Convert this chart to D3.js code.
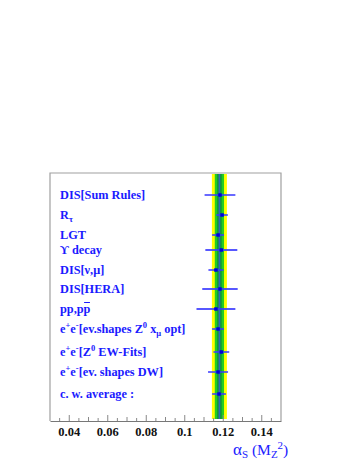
<!DOCTYPE html>
<html><head><meta charset="utf-8">
<script src="https://cdn.jsdelivr.net/npm/d3@7"></script>
<style>body{margin:0;background:#fff;} svg{display:block;}</style>
</head><body>
<svg id="c" width="358" height="463"></svg>
<script>
// ---- data ----
const labels = [
  "DIS[Sum Rules]", "R_tau", "LGT", "Upsilon decay", "DIS[nu,mu]", "DIS[HERA]",
  "pp,ppbar", "ee[ev.shapes Z0 xmu opt]", "ee[Z0 EW-Fits]", "ee[ev. shapes DW]", "c. w. average :"
];
const alphaValues = [0.1183, 0.1194, 0.1173, 0.1190, 0.1162, 0.1183, 0.1162, 0.1173, 0.1190, 0.1173, 0.1178];
const alphaErrors = [0.0080, 0.0030, 0.0031, 0.0083, 0.0039, 0.0092, 0.0101, 0.0031, 0.0041, 0.0052, 0.0036];
const rowY = [11.3, 10.3, 9.3, 8.55, 7.55, 6.6, 5.6, 4.6, 3.45, 2.45, 1.35];
const average = 0.1180;
const bandOuter = 0.0039;
const bandInner = 0.0024;
const bandCore = 0.0012;
const xTicks = [0.04, 0.06, 0.08, 0.1, 0.12, 0.14];

// ---- layout ----
const L = 50, R = 281, T = 173, B = 421;
const FONT = "Liberation Serif, Times New Roman, serif";
const svg = d3.select("#c");
const x = d3.scaleLinear().domain([0.03, 0.15]).range([L, R]);
const y = d3.scaleLinear().domain([0, 12.4]).range([B, T]);

// bands
const bandG = svg.append("g");
function band(hw, color) {
  bandG.append("rect").attr("x", x(average - hw)).attr("width", x(average + hw) - x(average - hw))
    .attr("y", T + 1).attr("height", B - T - 3).attr("fill", color);
}
band(bandOuter, "#ffff00");
band(bandInner, "#22cc22");
band(bandCore, "#119933");
bandG.append("line").attr("x1", x(average)).attr("x2", x(average)).attr("y1", T + 1).attr("y2", B - 2)
  .attr("stroke", "#3366bb").attr("stroke-width", 1.6);

// frame
svg.append("path").attr("d", `M${L},${B}V${T}H${R}V${B}`).attr("fill", "none")
  .attr("stroke", "#a0a0a0").attr("stroke-width", 1.2);

// x axis
const ax = d3.axisBottom(x).tickValues([]).tickSize(0);
const axG = svg.append("g").attr("transform", `translate(0,${B})`).call(ax);
axG.select(".domain").attr("stroke", "#777").attr("stroke-width", 1.2);
const minor = x.ticks(24).filter(v => v > 0.031 && v < 0.149);
svg.append("g").selectAll("line").data(minor).join("line")
  .attr("x1", d => x(d)).attr("x2", d => x(d))
  .attr("y1", B)
  .attr("y2", d => {
    const k = Math.round(d * 1000);
    return B - (k % 20 === 0 ? 6 : (k % 10 === 0 ? 4 : 3));
  })
  .attr("stroke", "#888").attr("stroke-width", 1);
svg.append("g").selectAll("text").data(xTicks).join("text")
  .attr("x", d => x(d)).attr("y", B + 15).attr("text-anchor", "middle")
  .attr("font-family", FONT).attr("font-weight", "bold")
  .attr("font-size", 12.5).attr("fill", "#111")
  .text(d => String(+d.toFixed(2)));

// axis title
const tt = svg.append("text").attr("x", 233).attr("y", 455)
  .attr("font-family", FONT).attr("fill", "#2222ff").attr("font-size", 17);
tt.append("tspan").text("α");
tt.append("tspan").attr("font-size", 11).attr("dy", 3).text("S");
tt.append("tspan").attr("dy", -3).attr("font-size", 15.5).text(" (M");
tt.append("tspan").attr("font-size", 11).attr("dy", 3).text("Z");
tt.append("tspan").attr("font-size", 11).attr("dy", -9).text("2");
tt.append("tspan").attr("font-size", 15.5).attr("dy", 6).text(")");

// error bars
svg.append("g").selectAll("line").data(alphaValues).join("line")
  .attr("x1", (d, i) => x(d - alphaErrors[i])).attr("x2", (d, i) => x(d + alphaErrors[i]))
  .attr("y1", (d, i) => y(rowY[i])).attr("y2", (d, i) => y(rowY[i]))
  .attr("stroke", "#3a3aff").attr("stroke-opacity", 0.85).attr("stroke-width", 1.8);
svg.append("g").selectAll("rect").data(alphaValues).join("rect")
  .attr("x", d => x(d) - 1.75).attr("y", (d, i) => y(rowY[i]) - 1.75)
  .attr("width", 3.5).attr("height", 3.5).attr("fill", "#0000dd");

// labels
const lab = svg.append("g").attr("font-family", FONT)
  .attr("font-weight", "bold").attr("font-size", 12.3).attr("fill", "#1a1aff");
labels.forEach((s, i) => {
  const t = lab.append("text").attr("x", L + 10).attr("y", y(rowY[i]) + 4);
  const span = (txt, dy, small) => {
    const sp = t.append("tspan").text(txt);
    if (dy) sp.attr("dy", dy);
    if (small) sp.attr("font-size", 8.5);
    return sp;
  };
  if (s === "R_tau") { span("R"); span("τ", 3, true); }
  else if (s === "Upsilon decay") { span("ϒ decay"); }
  else if (s === "DIS[nu,mu]") { span("DIS[ν,μ]"); }
  else if (s === "pp,ppbar") {
    span("pp,p"); const last = span("p");
    const node = t.node();
    const n = node.getNumberOfChars();
    const sx = node.getStartPositionOfChar(n - 1).x;
    const ex = node.getEndPositionOfChar(n - 1).x;
    lab.append("line").attr("x1", sx + 0.5).attr("x2", ex - 0.5)
      .attr("y1", y(rowY[i]) - 6.5).attr("y2", y(rowY[i]) - 6.5)
      .attr("stroke", "#1a1aff").attr("stroke-width", 1);
  }
  else if (s.startsWith("ee[")) {
    span("e"); span("+", -5, true); span("e", 5); span("-", -5, true);
    const rest = s.slice(3);
    if (rest.startsWith("ev.shapes")) {
      span("[ev.shapes Z", 5); span("0", -5, true); span(" x", 5); span("μ", 3, true); span(" opt]", -3);
    } else if (rest.startsWith("Z0")) {
      span("[Z", 5); span("0", -5, true); span(" EW-Fits]", 5);
    } else {
      span("[ev. shapes DW]", 5);
    }
  }
  else span(s);
});
</script>
</body></html>
